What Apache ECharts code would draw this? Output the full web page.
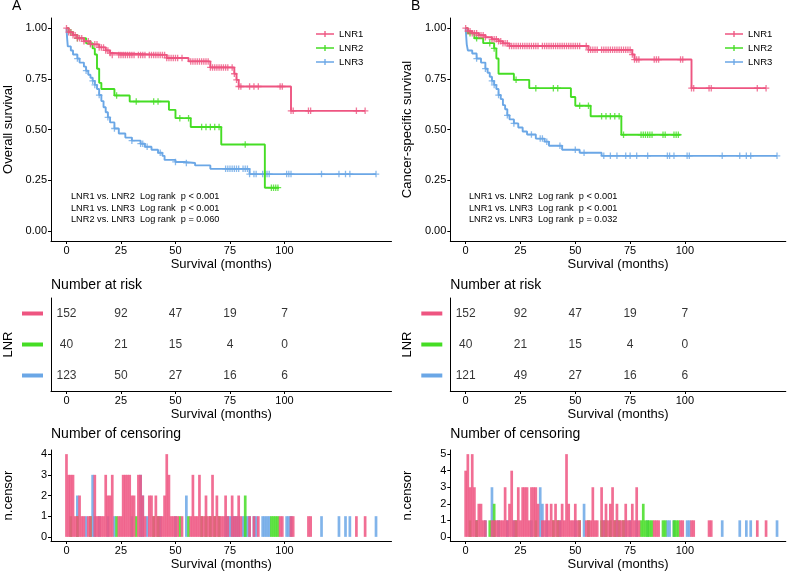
<!DOCTYPE html>
<html>
<head>
<meta charset="utf-8">
<script src="https://cdn.jsdelivr.net/npm/echarts@6/dist/echarts.min.js"></script>
<style>html,body{margin:0;padding:0;background:#fff}#c{width:792px;height:572px}</style>
</head>
<body>
<div id="c"></div>
<script>
// ---------------- DATA ----------------
const groups = ['LNR1', 'LNR2', 'LNR3'];
const xTicks = [0, 25, 50, 75, 100];
const survTicks = [0, 0.25, 0.5, 0.75, 1];
const riskTimes = [0, 25, 50, 75, 100];

// Panel A: overall survival (step times / survival)
const kmA1_t = [0,1,3,5,8,11,15,18,20,21,46,56,66,77,78,79,103,137];
const kmA1_s = [1,0.98,0.965,0.95,0.935,0.92,0.905,0.89,0.877,0.868,0.853,0.836,0.806,0.775,0.745,0.712,0.592,0.592];
const kmA2_t = [0,1,3,5,9,12,13,14,15,16,22,29,47,50,57,71,91,97.5];
const kmA2_s = [1,0.98,0.966,0.95,0.925,0.90,0.87,0.80,0.73,0.70,0.668,0.638,0.597,0.556,0.512,0.426,0.213,0.213];
const kmA3_t = [0,0.3,0.6,2,3,5,6,8,9,10,11,12,13,14,15,16,17,18,19,20,22,24,27,30,34,36,39,42,44,45,50,54,59,66,84,142];
const kmA3_s = [1,0.95,0.91,0.89,0.87,0.85,0.83,0.81,0.79,0.77,0.755,0.74,0.72,0.70,0.67,0.64,0.61,0.585,0.56,0.535,0.505,0.48,0.46,0.445,0.43,0.415,0.40,0.385,0.37,0.35,0.34,0.335,0.323,0.306,0.28,0.28];

// Panel B: cancer-specific survival
const kmB1_t = [0,1,3,6,9,12,15,17,20,56,76,77,103,137];
const kmB1_s = [1,0.985,0.975,0.965,0.955,0.945,0.935,0.925,0.912,0.893,0.87,0.845,0.704,0.704];
const kmB2_t = [0,1,4,8,13,14,15,22,29,48,50,57,71,98];
const kmB2_s = [1,0.975,0.95,0.926,0.90,0.85,0.775,0.745,0.704,0.66,0.617,0.565,0.474,0.474];
const kmB3_t = [0,0.5,1,3,5,7,9,10,11,12,13,14,15,16,17,18,19,20,22,24,26,28,32,36,38,44,52,62,142];
const kmB3_s = [1,0.92,0.89,0.875,0.85,0.83,0.80,0.78,0.76,0.74,0.72,0.70,0.67,0.65,0.62,0.60,0.57,0.55,0.53,0.51,0.49,0.475,0.455,0.44,0.42,0.40,0.385,0.37,0.37];

// Censoring: [time (months), number censored]
const censA1 = [[0,4],[1,3],[2,3],[3,3],[4,1],[5,1],[6,2],[7,1],[8,1],[10,1],[11,1],[13,3],[14,1],[15,1],[16,1],[17,1],[18,3],[19,2],[20,2],[21,3],[24,1],[25,1],[26,3],[27,3],[28,3],[29,3],[30,2],[31,2],[33,3],[34,3],[35,2],[36,1],[38,2],[39,2],[40,1],[41,2],[42,1],[43,1],[44,1],[45,2],[46,4],[47,3],[48,1],[49,1],[50,1],[51,1],[53,1],[57,1],[58,3],[59,1],[60,1],[61,3],[62,1],[63,1],[64,2],[65,1],[66,1],[67,3],[68,1],[69,2],[70,1],[71,1],[72,1],[73,2],[74,1],[76,2],[77,1],[78,1],[79,2],[80,1],[84,1],[86,1],[88,1],[98,1],[99,1],[103,1],[104,1],[111,1],[112,1],[133,1],[137,1]];
const censA2 = [[2,1],[5,1],[11,1],[23,1],[32,1],[40,1],[42,1],[52,1],[56,1],[62,1],[64,1],[66,1],[68,1],[70,1],[82,2],[94,1],[95,1],[96,1],[97,1]];
const censA3 = [[5,2],[9,1],[12,3],[13,1],[15,1],[19,1],[22,1],[30,1],[34,3],[35,2],[37,1],[43,1],[50,1],[55,2],[73,1],[74,1],[75,1],[76,1],[77,1],[78,1],[79,1],[81,1],[82,1],[83,1],[84,1],[86,1],[87,1],[90,1],[91,1],[92,1],[93,1],[101,1],[102,1],[103,1],[117,1],[125,1],[128,1],[130,1],[142,1]];
const censB1 = [[0,4],[1,5],[2,3],[3,5],[4,3],[5,1],[6,2],[7,2],[8,1],[9,1],[12,1],[13,1],[14,1],[15,1],[16,1],[17,1],[18,3],[19,1],[20,2],[21,4],[22,1],[23,1],[24,3],[25,1],[26,3],[27,3],[28,3],[29,1],[30,3],[31,3],[32,3],[33,2],[35,1],[36,1],[37,2],[38,1],[39,2],[40,1],[41,2],[42,1],[43,1],[44,2],[45,1],[46,5],[47,2],[48,1],[49,1],[50,2],[51,1],[52,1],[55,1],[56,1],[57,1],[58,3],[59,1],[60,1],[62,3],[63,1],[64,2],[65,1],[66,2],[67,3],[68,1],[69,2],[70,1],[71,1],[72,1],[73,2],[74,1],[75,1],[76,2],[77,1],[78,3],[79,1],[86,1],[87,1],[88,1],[98,1],[99,1],[103,1],[104,1],[111,1],[112,1],[133,1],[137,1]];
const censB2 = [[2,1],[5,1],[11,1],[13,2],[23,1],[32,1],[40,1],[42,1],[52,1],[56,1],[62,1],[64,1],[66,1],[68,1],[70,1],[72,1],[80,1],[81,2],[82,1],[83,1],[84,1],[85,1],[90,1],[91,1],[95,1],[96,1],[97,1]];
const censB3 = [[5,1],[9,1],[12,3],[13,1],[15,1],[19,1],[22,1],[30,1],[34,3],[35,2],[37,1],[43,1],[50,1],[54,2],[63,1],[66,1],[69,1],[73,1],[75,1],[78,1],[83,1],[92,1],[93,1],[95,1],[101,1],[102,1],[117,1],[125,1],[128,1],[130,1],[142,1]];

// Number at risk
const riskA1 = [152, 92, 47, 19, 7];
const riskA2 = [40, 21, 15, 4, 0];
const riskA3 = [123, 50, 27, 16, 6];
const riskB1 = [152, 92, 47, 19, 7];
const riskB2 = [40, 21, 15, 4, 0];
const riskB3 = [121, 49, 27, 16, 6];

const pTextA = ['LNR1 vs. LNR2  Log rank  p < 0.001', 'LNR1 vs. LNR3  Log rank  p < 0.001', 'LNR2 vs. LNR3  Log rank  p = 0.060'];
const pTextB = ['LNR1 vs. LNR2  Log rank  p < 0.001', 'LNR1 vs. LNR3  Log rank  p < 0.001', 'LNR2 vs. LNR3  Log rank  p = 0.032'];
const censTicksA = [0, 1, 2, 3, 4];
const censTicksB = [0, 1, 2, 3, 4, 5];

// ---------------- STYLE / LAYOUT ----------------
const COLORS = ['#EE5581', '#45DD24', '#6BA7E6'];
const FONT = '"Liberation Sans", Arial, Helvetica, sans-serif';
const PLUS = 'path://M4,0 L6,0 L6,4 L10,4 L10,6 L6,6 L6,10 L4,10 L4,6 L0,6 L0,4 L4,4 Z';
const LEG_ICON = 'path://M0,3.9 L13.9,3.9 L13.9,0 L16.1,0 L16.1,3.9 L30,3.9 L30,6.1 L16.1,6.1 L16.1,10 L13.9,10 L13.9,6.1 L0,6.1 Z';

const panels = [
  { km: [[kmA1_t, kmA1_s], [kmA2_t, kmA2_s], [kmA3_t, kmA3_s]], cens: [censA1, censA2, censA3],
    risk: [riskA1, riskA2, riskA3], yTitle: 'Overall survival', ptext: pTextA, censTicks: censTicksA,
    left: 51, width: 340.5, xMin: -7.1, xMax: 149.1, censMin: -0.2, censMax: 4.2, label: 'A', labelX: 12, legendX: 311, ptX: 71 },
  { km: [[kmB1_t, kmB1_s], [kmB2_t, kmB2_s], [kmB3_t, kmB3_s]], cens: [censB1, censB2, censB3],
    risk: [riskB1, riskB2, riskB3], yTitle: 'Cancer-specific survival', ptext: pTextB, censTicks: censTicksB,
    left: 450.3, width: 335.5, xMin: -7, xMax: 146, censMin: -0.25, censMax: 5.25, label: 'B', labelX: 411, legendX: 720, ptX: 469 }
];

function survAt(t, s, x) { let v = s[0]; for (let i = 0; i < t.length; i++) if (t[i] <= x) v = s[i]; return v; }

const grid = [], xAxis = [], yAxis = [], series = [], title = [], legend = [];
const axisLine = { show: true, onZero: false, lineStyle: { color: '#000', width: 1 } };

panels.forEach((p, pi) => {
  const base = pi * 3;
  grid.push({ left: p.left, top: 18, width: p.width, height: 223 });
  grid.push({ left: p.left, top: 298, width: p.width, height: 93 });
  grid.push({ left: p.left, top: 450, width: p.width, height: 91 });
  for (let k = 0; k < 3; k++) {
    xAxis.push({
      type: 'value', gridIndex: base + k, min: p.xMin, max: p.xMax,
      name: 'Survival (months)', nameLocation: 'middle', nameGap: 17,
      nameTextStyle: { fontSize: 13, color: '#000' },
      axisLine: axisLine,
      axisTick: { show: true, length: 3, customValues: xTicks, lineStyle: { color: '#000' } },
      axisLabel: { fontSize: 11, color: '#000', margin: 4, customValues: xTicks },
      splitLine: { show: false }
    });
  }
  yAxis.push({
    type: 'value', gridIndex: base, min: -0.05, max: 1.05,
    name: p.yTitle, nameLocation: 'middle', nameGap: 36, nameTextStyle: { fontSize: 13, color: '#000' },
    axisLine: axisLine,
    axisTick: { show: true, length: 3, customValues: survTicks, lineStyle: { color: '#000' } },
    axisLabel: { fontSize: 11, color: '#000', margin: 4, customValues: survTicks, formatter: v => v.toFixed(2) },
    splitLine: { show: false }
  });
  const rich = {};
  groups.forEach((g, gi) => { rich[g] = { backgroundColor: COLORS[gi], width: 21, height: 4, lineHeight: 4, fontSize: 2 }; });
  yAxis.push({
    type: 'category', gridIndex: base + 1, data: groups, inverse: true,
    name: 'LNR', nameLocation: 'middle', nameGap: 36, nameTextStyle: { fontSize: 13, color: '#000' },
    axisLine: axisLine, axisTick: { show: false },
    axisLabel: { margin: 8, formatter: v => '{' + v + '| }', rich: rich },
    splitLine: { show: false }
  });
  yAxis.push({
    type: 'value', gridIndex: base + 2, min: p.censMin, max: p.censMax,
    name: 'n.censor', nameLocation: 'middle', nameGap: 36, nameTextStyle: { fontSize: 13, color: '#000' },
    axisLine: axisLine,
    axisTick: { show: true, length: 3, customValues: p.censTicks, lineStyle: { color: '#000' } },
    axisLabel: { fontSize: 11, color: '#000', margin: 4, customValues: p.censTicks },
    splitLine: { show: false }
  });

  [2, 1, 0].forEach(gi => {
    const [t, s] = p.km[gi];
    series.push({
      name: groups[gi], type: 'line', xAxisIndex: base, yAxisIndex: base,
      data: t.map((x, i) => [x, s[i]]), step: 'end', showSymbol: false, symbol: 'none',
      color: COLORS[gi], lineStyle: { color: COLORS[gi], width: 1.9 }, z: 3 + (2 - gi)
    });
    series.push({
      name: 'cens-' + groups[gi] + '-' + pi, type: 'scatter', xAxisIndex: base, yAxisIndex: base,
      data: p.cens[gi].map(c => [c[0], survAt(t, s, c[0])]),
      symbol: PLUS, symbolSize: 6.5, itemStyle: { color: COLORS[gi] }, silent: true, z: 3 + (2 - gi)
    });
    series.push({
      name: 'risk-' + groups[gi] + '-' + pi, type: 'scatter', xAxisIndex: base + 1, yAxisIndex: base + 1,
      data: riskTimes.map((x, i) => [x, groups[gi], p.risk[gi][i]]),
      symbolSize: 0, silent: true,
      label: { show: true, position: 'inside', formatter: q => String(q.value[2]), fontSize: 12, color: '#000' }
    });
    series.push({
      name: 'bar-' + groups[gi] + '-' + pi, type: 'bar', xAxisIndex: base + 2, yAxisIndex: base + 2,
      data: p.cens[gi].map(c => [c[0], c[1]]), barWidth: 2.7, barGap: '-100%',
      itemStyle: { color: COLORS[gi], opacity: 0.85 }, silent: true
    });
  });

  legend.push({
    orient: 'vertical', left: p.legendX, top: 24, itemWidth: 18, itemHeight: 9, itemGap: 4,
    selectedMode: false, textStyle: { fontSize: 9.5, color: '#000' },
    data: groups.map(g => ({ name: g, icon: LEG_ICON }))
  });

  title.push({ text: p.label, left: p.labelX, top: -1, padding: 0, textStyle: { fontSize: 14, fontWeight: 'normal', color: '#000' } });
  title.push({ text: p.ptext.join('\n'), left: p.ptX, top: 191, padding: 0, textStyle: { fontSize: 9.2, lineHeight: 11.5, fontWeight: 'normal', color: '#000' } });
  title.push({ text: 'Number at risk', left: p.left, top: 278, padding: 0, textStyle: { fontSize: 14, fontWeight: 'normal', color: '#000' } });
  title.push({ text: 'Number of censoring', left: p.left, top: 427, padding: 0, textStyle: { fontSize: 14, fontWeight: 'normal', color: '#000' } });
});

const chart = echarts.init(document.getElementById('c'), null, { renderer: 'canvas' });
chart.setOption({
  animation: false,
  backgroundColor: '#fff',
  textStyle: { fontFamily: FONT },
  title, legend, grid, xAxis, yAxis, series
});
</script>
</body>
</html>
